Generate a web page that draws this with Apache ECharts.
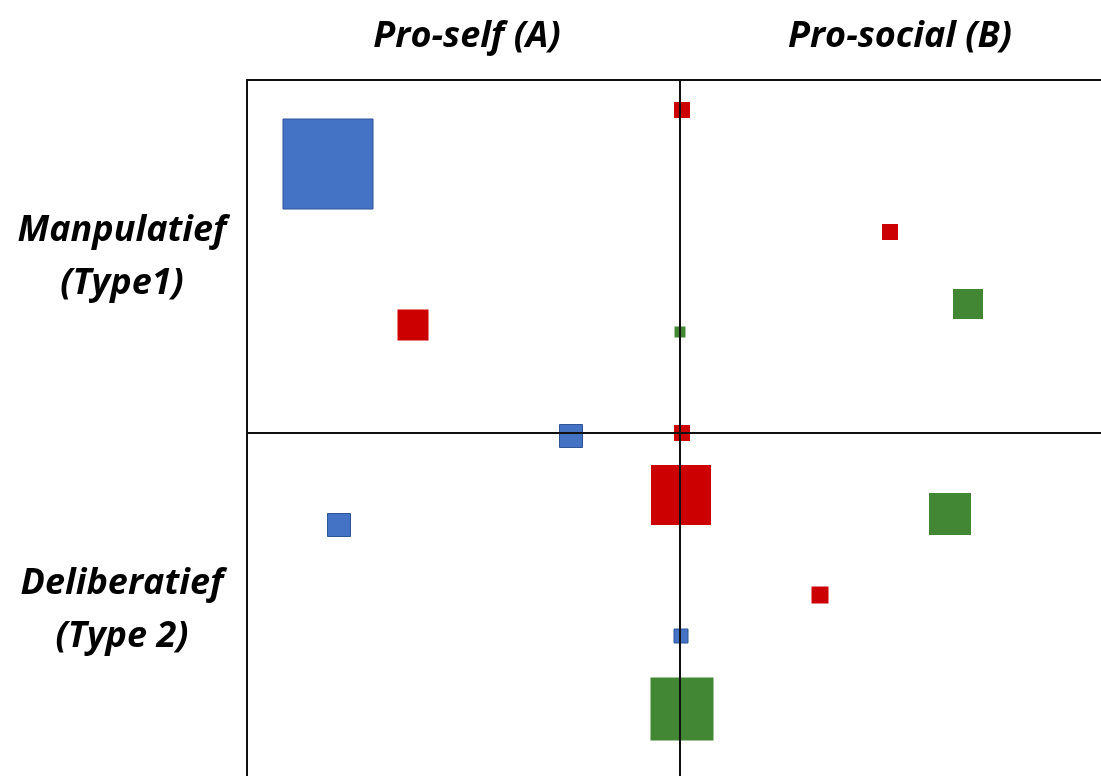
<!DOCTYPE html>
<html>
<head>
<meta charset="utf-8">
<script src="https://cdn.jsdelivr.net/npm/echarts@6/dist/echarts.min.js"></script>
<style>
html,body{margin:0;padding:0;background:#fff;}
#chart{width:1101px;height:776px;}
</style>
</head>
<body>
<div id="chart"></div>
<script>
// Column headings (top) and row headings (left)
const columnLabels = ['Pro-self (A)', 'Pro-social (B)'];
const rowLabels = ['Manpulatief\n(Type1)', 'Deliberatief\n(Type 2)'];

// Points: [x, y, size]; origin = crossing of the dividing lines
const bluePoints = [
  [-3.52, 2.69, 90],
  [-1.09, -0.03, 23],
  [-3.41, -0.92, 23],
  [0.01, -2.03, 14]
];
const redPoints = [
  [0.02, 3.23, 16],
  [-2.67, 1.08, 31],
  [2.10, 2.01, 16],
  [0.02, 0.00, 16],
  [0.01, -0.62, 60],
  [1.40, -1.62, 17]
];
const greenPoints = [
  [0.00, 1.01, 11],
  [2.88, 1.29, 30],
  [2.70, -0.81, 42],
  [0.02, -2.76, 63]
];

const xRange = [-4.33, 4.21];
const yRange = [-3.43, 3.53];

const labelFont = {
  fontFamily: 'Open Sans',
  fontWeight: 'bold',
  fontStyle: 'italic',
  fontSize: 36,
  color: '#000',
  lineHeight: 53
};

const chart = echarts.init(document.getElementById('chart'));
const sizeFn = d => d[2];

chart.setOption({
  animation: false,
  backgroundColor: '#fff',
  title: [
    { text: columnLabels[0], left: 462, top: 5, textAlign: 'center', textStyle: labelFont },
    { text: columnLabels[1], left: 895, top: 5, textAlign: 'center', textStyle: labelFont },
    { text: rowLabels[0], left: 117, top: 199, textAlign: 'center', textStyle: labelFont },
    { text: rowLabels[1], left: 117, top: 552, textAlign: 'center', textStyle: labelFont }
  ],
  grid: { left: 247, top: 80, right: 0, bottom: 0 },
  xAxis: {
    type: 'value', min: xRange[0], max: xRange[1], position: 'top',
    axisLine: { show: true, onZero: false, lineStyle: { color: '#111', width: 2 } },
    axisTick: { show: false }, axisLabel: { show: false }, splitLine: { show: false }
  },
  yAxis: {
    type: 'value', min: yRange[0], max: yRange[1], position: 'left',
    axisLine: { show: true, onZero: false, lineStyle: { color: '#111', width: 2 } },
    axisTick: { show: false }, axisLabel: { show: false }, splitLine: { show: false }
  },
  series: [
    {
      type: 'scatter', data: [], z: 1, silent: true,
      markLine: {
        silent: true, symbol: 'none', label: { show: false },
        lineStyle: { color: '#111', width: 2, type: 'solid' },
        data: [{ xAxis: 0 }, { yAxis: 0 }]
      }
    },
    {
      name: 'blue', type: 'scatter', z: 3, symbol: 'rect', symbolSize: sizeFn,
      itemStyle: { color: '#4472C4', borderColor: '#2F5597', borderWidth: 1, opacity: 1 },
      data: bluePoints
    },
    {
      name: 'red', type: 'scatter', z: 3, symbol: 'rect', symbolSize: sizeFn,
      itemStyle: { color: '#CC0000', opacity: 1 },
      data: redPoints
    },
    {
      name: 'green', type: 'scatter', z: 3, symbol: 'rect', symbolSize: sizeFn,
      itemStyle: { color: '#428734', opacity: 1 },
      data: greenPoints
    }
  ]
});
</script>
</body>
</html>
